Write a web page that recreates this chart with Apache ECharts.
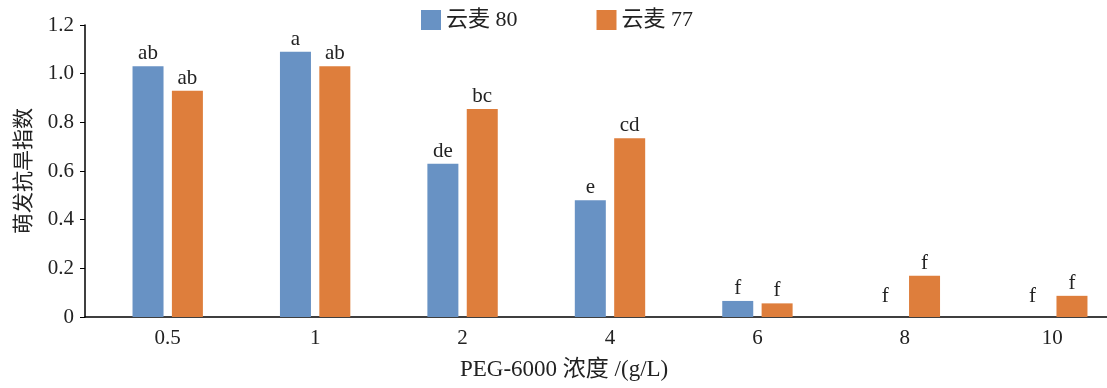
<!DOCTYPE html>
<html>
<head>
<meta charset="utf-8">
<script src="https://cdn.jsdelivr.net/npm/echarts@6/dist/echarts.min.js"></script>
<style>
html,body{margin:0;padding:0;background:#fff;}
#main{width:1107px;height:388px;}
</style>
</head>
<body>
<div id="main"></div>
<script>
const categories = ['0.5', '1', '2', '4', '6', '8', '10'];
const seriesNames = ['云麦 80', '云麦 77'];
const values80 = [1.03, 1.09, 0.63, 0.48, 0.066, 0, 0];
const values77 = [0.93, 1.03, 0.855, 0.735, 0.056, 0.17, 0.087];
const letters80 = ['ab', 'a', 'de', 'e', 'f', 'f', 'f'];
const letters77 = ['ab', 'ab', 'bc', 'cd', 'f', 'f', 'f'];
const yTicks = [0, 0.2, 0.4, 0.6, 0.8, 1.0, 1.2];

const FONT = '"Liberation Serif", "Noto Sans CJK SC", serif';
const colors = ['#6892c4', '#de7e3c'];

function buildData(vals, letters) {
  return vals.map((v, i) => ({
    value: v,
    label: { formatter: letters[i], distance: v === 0 ? 10 : 2 }
  }));
}

const chart = echarts.init(document.getElementById('main'), null, { renderer: 'canvas' });
chart.setOption({
  animation: false,
  color: colors,
  textStyle: { fontFamily: FONT },
  title: {
    text: 'PEG-6000 浓度 /(g/L)',
    left: 455, top: 353,
    textStyle: { fontFamily: FONT, fontSize: 23, fontWeight: 'normal', color: '#222' }
  },
  legend: {
    top: 4, left: 416,
    itemWidth: 20, itemHeight: 20, itemGap: 79,
    icon: 'rect',
    textStyle: { fontFamily: FONT, fontSize: 22, color: '#222' },
    data: seriesNames
  },
  grid: [
    { left: 85, right: 0, top: 25, bottom: 71, outerBoundsMode: 'none' },
    { left: 94, width: 1032, top: 25, bottom: 71, outerBoundsMode: 'none' }
  ],
  xAxis: [
    {
      gridIndex: 0, type: 'category', data: [''],
      axisLine: { show: true, lineStyle: { color: '#000', width: 1.5 } },
      axisTick: { show: false }, axisLabel: { show: false }
    },
    {
      gridIndex: 1, type: 'category', data: categories,
      axisLine: { show: false }, axisTick: { show: false },
      axisLabel: { fontFamily: FONT, fontSize: 21, color: '#222', margin: 11 }
    }
  ],
  yAxis: [
    {
      gridIndex: 0, type: 'value', min: 0, max: 1.2, interval: 0.2,
      name: '萌发抗旱指数', nameLocation: 'middle', nameGap: 52,
      nameTextStyle: { fontFamily: '"Noto Sans CJK SC"', fontSize: 21, color: '#222' },
      axisLine: { show: true, lineStyle: { color: '#000', width: 1.5 } },
      axisTick: { show: true, length: 5, lineStyle: { color: '#000' } },
      splitLine: { show: false },
      axisLabel: {
        fontFamily: FONT, fontSize: 21, color: '#222', margin: 11,
        formatter: v => (v === 0 ? '0' : v.toFixed(1))
      }
    },
    {
      gridIndex: 1, type: 'value', min: 0, max: 1.2, show: false
    }
  ],
  series: [
    {
      name: seriesNames[0], type: 'bar', xAxisIndex: 1, yAxisIndex: 1,
      barWidth: 31, barGap: '27%',
      data: buildData(values80, letters80),
      label: { show: true, position: 'top', fontFamily: FONT, fontSize: 21, color: '#222' }
    },
    {
      name: seriesNames[1], type: 'bar', xAxisIndex: 1, yAxisIndex: 1,
      barWidth: 31, barGap: '27%',
      data: buildData(values77, letters77),
      label: { show: true, position: 'top', fontFamily: FONT, fontSize: 21, color: '#222' }
    }
  ]
});
</script>
</body>
</html>
